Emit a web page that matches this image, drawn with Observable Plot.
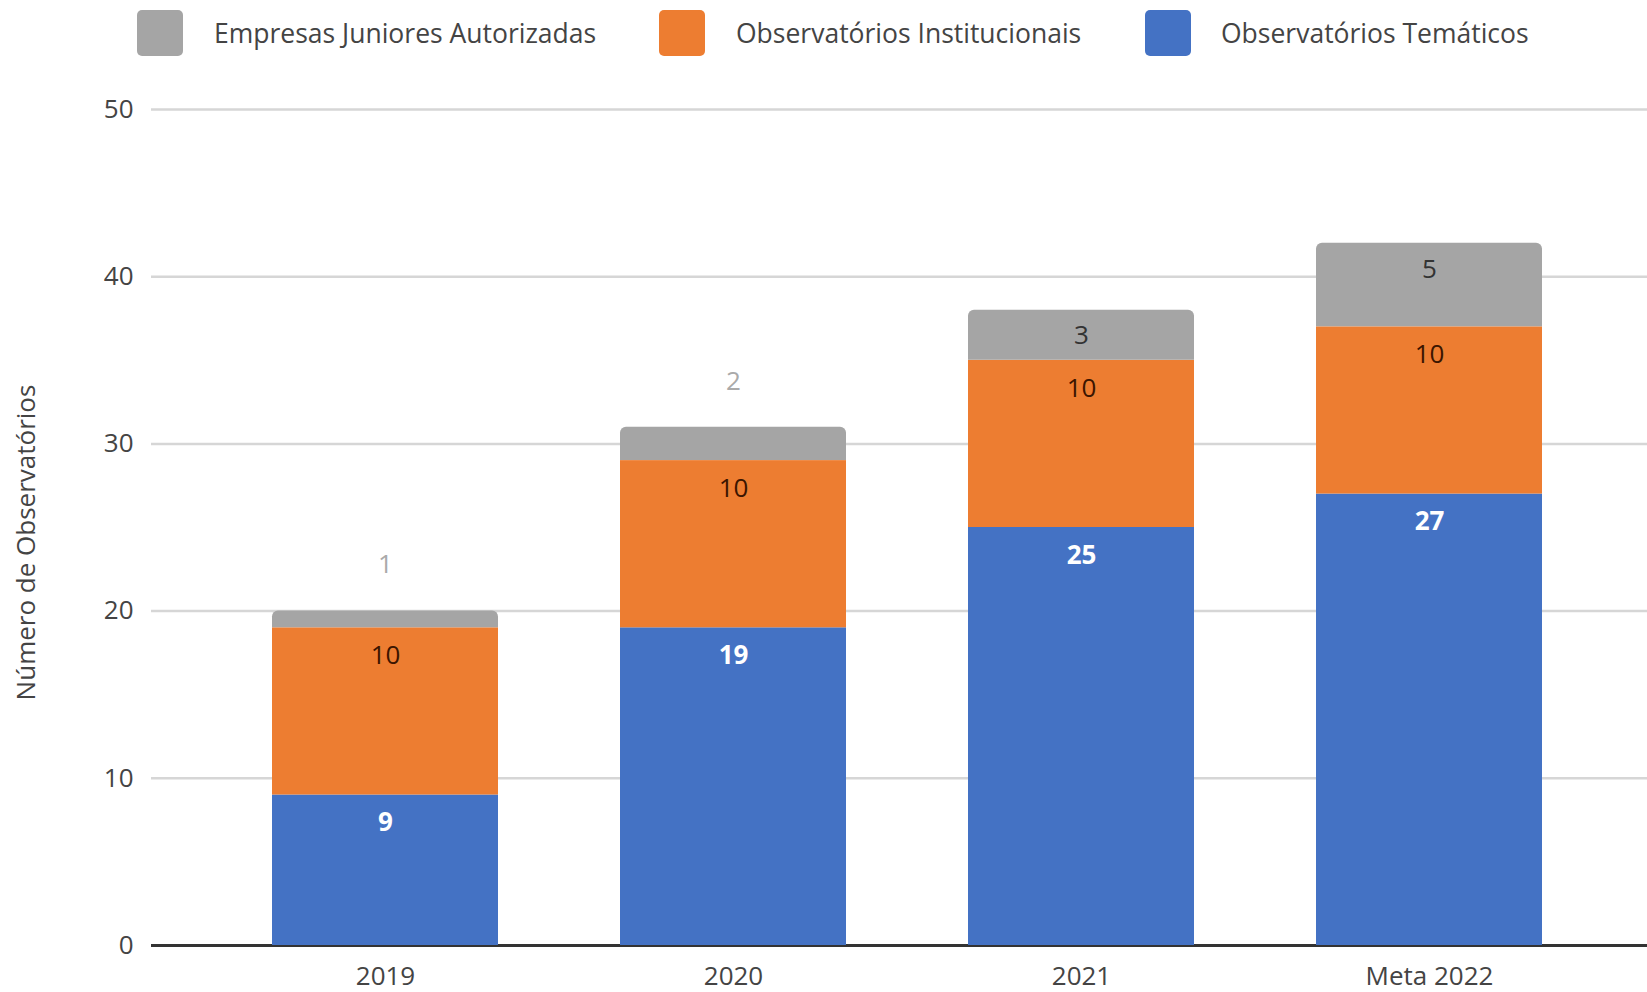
<!DOCTYPE html>
<html>
<head>
<meta charset="utf-8">
<script src="https://cdn.jsdelivr.net/npm/d3@7"></script>
<script src="https://cdn.jsdelivr.net/npm/@observablehq/plot@0.6"></script>
<style>
  html, body { margin: 0; padding: 0; background: #fff; }
  body { width: 1647px; height: 992px; overflow: hidden; font-family: "Open Sans", sans-serif; }
  #legend { position: relative; height: 70px; width: 1647px; }
  .item { position: absolute; top: 10px; height: 46px; display: flex; align-items: center; }
  .sw { width: 46px; height: 46px; border-radius: 5px; }
  .lab { white-space: nowrap; font-size: 26.5px; color: #444; }
  #chart svg { display: block; }
</style>
</head>
<body>
<div id="legend"></div>
<div id="chart"></div>
<script>
const categories = ["2019", "2020", "2021", "Meta 2022"];
const seriesNames = ["Observatórios Temáticos", "Observatórios Institucionais", "Empresas Juniores Autorizadas"];
const tematicos = [9, 19, 25, 27];
const institucionais = [10, 10, 10, 10];
const empresas = [1, 2, 3, 5];
const seriesColors = ["#4472c4", "#ed7d31", "#a5a5a5"];
const yTicks = [0, 10, 20, 30, 40, 50];
const legendOrder = ["Empresas Juniores Autorizadas", "Observatórios Institucionais", "Observatórios Temáticos"];
const yTitle = "Número de Observatórios";

const values = [tematicos, institucionais, empresas];
const data = [];
seriesNames.forEach((s, si) => categories.forEach((c, ci) => data.push({category: c, series: s, value: values[si][ci]})));

// Legend
const legendPos = [{sw: 137, lab: 214}, {sw: 659, lab: 736}, {sw: 1145, lab: 1221}];
const legend = document.getElementById("legend");
legendOrder.forEach((s, i) => {
  const col = seriesColors[seriesNames.indexOf(s)];
  const sw = document.createElement("div");
  sw.className = "item";
  sw.style.left = legendPos[i].sw + "px";
  sw.innerHTML = `<div class="sw" style="background:${col}"></div>`;
  legend.appendChild(sw);
  const lab = document.createElement("div");
  lab.className = "item";
  lab.style.left = legendPos[i].lab + "px";
  lab.innerHTML = `<span class="lab">${s}</span>`;
  legend.appendChild(lab);
});

const stackOpts = {x: "category", y: "value", z: "series", order: seriesNames};
const gray = seriesNames[2];
const isSmall = d => d.series === gray && d.value < 3;
const FS = 26;

const chart = Plot.plot({
  width: 1647,
  height: 922,
  marginTop: 39,
  marginBottom: 47,
  marginLeft: 151,
  marginRight: 0,
  style: {fontFamily: "Open Sans, sans-serif", fontSize: FS + "px", color: "#444", background: "#fff"},
  x: {domain: categories, range: [211, 1604], paddingInner: 0.35, paddingOuter: 0.175},
  y: {domain: [0, 50]},
  color: {domain: seriesNames, range: seriesColors},
  marks: [
    Plot.ruleY(yTicks.filter(t => t > 0), {stroke: "#d6d6d6", strokeWidth: 2.5}),
    Plot.ruleY([0], {stroke: "#333", strokeWidth: 3}),
    Plot.barY(data, Plot.filter(d => d.series !== gray, Plot.stackY({...stackOpts, fill: "series"}))),
    Plot.barY(data, Plot.filter(d => d.series === gray, Plot.stackY({...stackOpts, fill: "series", rx1y1: 6, rx2y1: 6}))),
    Plot.axisY({ticks: yTicks, tickSize: 0, tickPadding: 18, fontSize: FS, fill: "#444", label: null}),
    Plot.axisX({tickSize: 0, tickPadding: 21, fontSize: FS, fill: "#444", label: null}),
    Plot.text([yTitle], {frameAnchor: "left", textAnchor: "middle", rotate: -90, dx: -125, dy: 15, fontSize: FS, fill: "#444", text: d => d}),
    // labels inside segments
    Plot.text(data, Plot.filter(d => d.series === seriesNames[0], Plot.stackY2({...stackOpts, text: d => String(d.value),
      dy: 28, fill: "#fff", fontWeight: "bold", fontSize: FS}))),
    Plot.text(data, Plot.filter(d => d.series === seriesNames[1], Plot.stackY2({...stackOpts, text: d => String(d.value),
      dy: 28, fill: "#3b1500", fontSize: FS}))),
    Plot.text(data, Plot.filter(d => d.series === gray && !isSmall(d), Plot.stackY2({...stackOpts, text: d => String(d.value),
      dy: 26, fill: "#333", fontSize: FS}))),
    // labels above for small segments
    Plot.text(data, Plot.filter(isSmall, Plot.stackY2({...stackOpts, text: d => String(d.value),
      dy: -46, fill: "#aaa", fontSize: FS})))
  ]
});
document.getElementById("chart").appendChild(chart);
</script>
</body>
</html>
